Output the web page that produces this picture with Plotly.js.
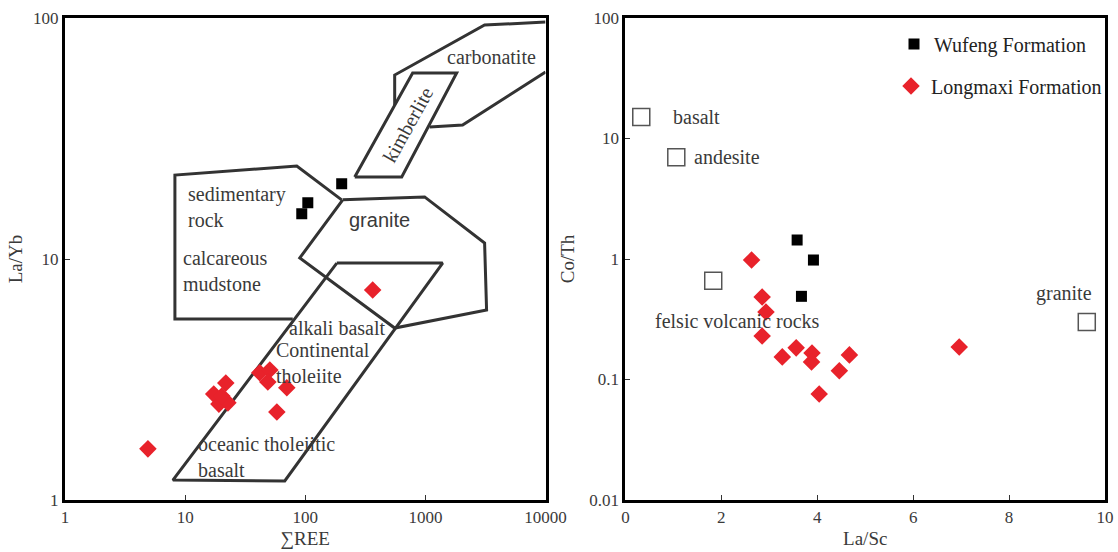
<!DOCTYPE html>
<html>
<head>
<meta charset="utf-8">
<script src="https://cdn.plot.ly/plotly-3.0.1.min.js"></script>
<style>html,body{margin:0;padding:0;background:#fff;}</style>
</head>
<body>
<div id="chart" style="width:1118px;height:552px;"></div>
<script>
// ---------- Left diagram: La/Yb vs ΣREE ----------
const leftXTicks = [1, 10, 100, 1000, 10000];
const leftXTickText = ['1', '10', '100', '1000', '10000'];
const leftYTicks = [1, 10, 100];
const leftYTickText = ['1', '10', '100'];

const wufengREE = [201, 105, 93.5];
const wufengLaYb = [20.5, 17.1, 15.4];
const longmaxiREE = [364, 4.9, 17.3, 21.8, 19.1, 22.7, 20.2, 41.8, 50.7, 48.8, 70.2, 58.0];
const longmaxiLaYb = [7.44, 1.63, 2.75, 3.06, 2.50, 2.53, 2.70, 3.37, 3.46, 3.09, 2.92, 2.32];

// field boundaries (ΣREE, La/Yb)
const carbonatiteAX = [555, 555, 3110, 10000];
const carbonatiteAY = [43.5, 58.0, 93.5, 96.2];
const carbonatiteBX = [1084, 2040, 10000];
const carbonatiteBY = [35.3, 36.0, 59.7];
const kimberliteX = [258, 635, 1820, 783, 258];
const kimberliteY = [21.9, 21.9, 59.1, 59.1, 21.9];
const sedimentaryX = [201, 85.0, 8.22, 8.22, 78.7];
const sedimentaryY = [17.6, 24.3, 22.3, 5.64, 5.64];
const graniteFieldX = [205, 985, 3110, 3231, 555, 90.0, 205];
const graniteFieldY = [17.6, 18.1, 11.65, 6.14, 5.17, 10.1, 17.6];
const basaltFieldX = [183, 1392, 67.5, 7.91, 183];
const basaltFieldY = [9.62, 9.62, 1.20, 1.21, 9.62];

// ---------- Right diagram: Co/Th vs La/Sc ----------
const rightXTicks = [0, 2, 4, 6, 8, 10];
const rightYTicks = [0.01, 0.1, 1, 10, 100];
const rightYTickText = ['0.01', '0.1', '1', '10', '100'];

const wufengLaSc = [3.58, 3.92, 3.67];
const wufengCoTh = [1.44, 0.98, 0.49];
const longmaxiLaSc = [2.63, 2.85, 2.93, 2.85, 3.27, 3.56, 3.89, 3.88, 4.46, 4.67, 4.04, 6.96];
const longmaxiCoTh = [0.98, 0.484, 0.363, 0.230, 0.154, 0.183, 0.166, 0.140, 0.118, 0.160, 0.0758, 0.186];
const rockNames = ['basalt', 'andesite', 'felsic volcanic rocks', 'granite'];
const rockLaSc = [0.33, 1.06, 1.83, 9.62];
const rockCoTh = [15.1, 7.0, 0.66, 0.30];

const SERIF = 'Liberation Serif, Times New Roman, serif';
const TXT = '#3a3a3a';
const LINE = '#333333';

function field(x, y) {
  return {x: x, y: y, xaxis: 'x', yaxis: 'y', mode: 'lines', type: 'scatter',
    line: {color: LINE, width: 3}, hoverinfo: 'skip', showlegend: false};
}

const traces = [
  field(carbonatiteAX, carbonatiteAY),
  field(carbonatiteBX, carbonatiteBY),
  field(sedimentaryX, sedimentaryY),
  field(graniteFieldX, graniteFieldY),
  field(basaltFieldX, basaltFieldY),
  Object.assign(field(kimberliteX, kimberliteY), {fill: 'toself', fillcolor: 'rgba(255,255,255,1)'}),
  {x: wufengREE, y: wufengLaYb, xaxis: 'x', yaxis: 'y', mode: 'markers', type: 'scatter',
    marker: {symbol: 'square', size: 11, color: '#000'}, showlegend: false, name: 'Wufeng Formation'},
  {x: longmaxiREE, y: longmaxiLaYb, xaxis: 'x', yaxis: 'y', mode: 'markers', type: 'scatter',
    marker: {symbol: 'diamond', size: 13.5, color: '#e8222b'}, showlegend: false, name: 'Longmaxi Formation'},
  {x: rockLaSc, y: rockCoTh, text: rockNames, xaxis: 'x2', yaxis: 'y2', mode: 'markers', type: 'scatter',
    marker: {symbol: 'square-open', size: 17, color: '#555', line: {width: 1.5}}, showlegend: false},
  {x: wufengLaSc, y: wufengCoTh, xaxis: 'x2', yaxis: 'y2', mode: 'markers', type: 'scatter',
    marker: {symbol: 'square', size: 11, color: '#000'}, name: 'Wufeng Formation', legend: 'legend'},
  {x: longmaxiLaSc, y: longmaxiCoTh, xaxis: 'x2', yaxis: 'y2', mode: 'markers', type: 'scatter',
    marker: {symbol: 'diamond', size: 13.5, color: '#e8222b'}, name: 'Longmaxi Formation', legend: 'legend2'}
];

const L = 65, T = 18, W = 1041, H = 482;
const PX = px => (px - L) / W;
const PY = py => (T + H - py) / H;

function lab(text, px, py, anchor, extra) {
  return Object.assign({text: text, x: PX(px), y: PY(py), xref: 'paper', yref: 'paper',
    xanchor: anchor, yanchor: 'middle', showarrow: false, align: 'left',
    font: {family: SERIF, size: 20, color: TXT}}, extra || {});
}

const annotations = [
  lab('carbonatite', 492, 57, 'center'),
  lab('kimberlite', 408, 125, 'center', {textangle: -61}),
  lab('sedimentary<br>rock', 186, 207, 'left'),
  lab('granite', 380, 220, 'center', {font: {family: 'Liberation Sans, Arial, sans-serif', size: 20, color: TXT}}),
  lab('calcareous<br>mudstone', 181, 271, 'left'),
  lab('alkali basalt', 287, 328, 'left'),
  lab('Continental<br>tholeiite', 274, 363, 'left'),
  lab('oceanic tholeiitic<br>basalt', 196, 457, 'left'),
  lab(rockNames[0], 672, 117, 'left'),
  lab(rockNames[1], 693, 157, 'left'),
  lab(rockNames[2], 654, 321, 'left'),
  lab(rockNames[3], 1095, 293, 'right')
];

const axisCommon = {
  showline: true, mirror: true, linewidth: 3, linecolor: '#000',
  ticks: 'inside', ticklen: 5, tickwidth: 1, tickcolor: '#333',
  showgrid: false, zeroline: false,
  tickfont: {family: SERIF, size: 17, color: TXT}
};

const layout = {
  width: 1118, height: 552,
  margin: {l: L, r: 1118 - L - W, t: T, b: 552 - T - H},
  paper_bgcolor: '#fff', plot_bgcolor: '#fff',
  xaxis: Object.assign({}, axisCommon, {type: 'log', range: [0, 4], domain: [0, 481 / W],
    tickvals: leftXTicks, ticktext: leftXTickText, anchor: 'y',
    title: {text: '∑REE', font: {family: SERIF, size: 19, color: TXT}, standoff: 6}}),
  yaxis: Object.assign({}, axisCommon, {type: 'log', range: [0, 2], domain: [0, 1],
    tickvals: leftYTicks, ticktext: leftYTickText, anchor: 'x',
    title: {text: 'La/Yb', font: {family: SERIF, size: 19, color: TXT}, standoff: 6}}),
  xaxis2: Object.assign({}, axisCommon, {type: 'linear', range: [0, 10], domain: [561 / W, 1],
    tickvals: rightXTicks, anchor: 'y2',
    title: {text: 'La/Sc', font: {family: SERIF, size: 19, color: TXT}, standoff: 6}}),
  yaxis2: Object.assign({}, axisCommon, {type: 'log', range: [-2, 2], domain: [0, 1],
    tickvals: rightYTicks, ticktext: rightYTickText, anchor: 'x2',
    title: {text: 'Co/Th', font: {family: SERIF, size: 19, color: TXT}, standoff: 10}}),
  legend: {x: PX(894), y: PY(44), xanchor: 'left', yanchor: 'middle', bgcolor: 'rgba(0,0,0,0)',
    font: {family: SERIF, size: 20, color: '#222'}},
  legend2: {x: PX(891), y: PY(86), xanchor: 'left', yanchor: 'middle', bgcolor: 'rgba(0,0,0,0)',
    font: {family: SERIF, size: 20, color: '#222'}},
  annotations: annotations,
  showlegend: true
};

Plotly.newPlot('chart', traces, layout, {staticPlot: true, displayModeBar: false});
</script>
</body>
</html>
